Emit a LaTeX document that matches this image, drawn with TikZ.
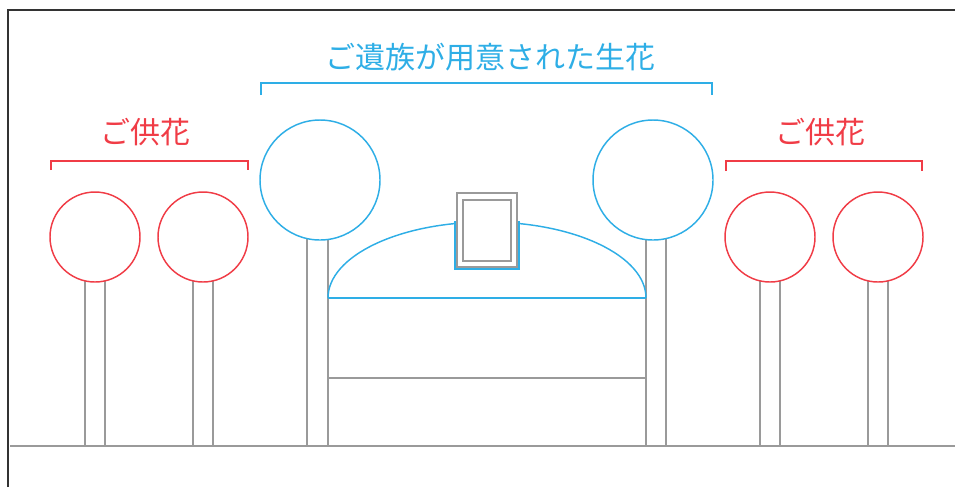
\documentclass[tikz,border=0pt]{standalone}
\usepackage{fontspec}
\newfontfamily\jp{Noto Sans CJK JP}
\definecolor{fred}{HTML}{F03C46}
\definecolor{fblue}{HTML}{2EAEE6}
\definecolor{fgray}{HTML}{9A9A9A}
\begin{document}
\begin{tikzpicture}[x=0.75pt,y=-0.75pt,
  gl/.style={draw=fgray,line width=1.5pt},
  rl/.style={draw=fred,line width=1.1pt},
  bl/.style={draw=fblue,line width=1.1pt},
  lbl/.style={font=\jp\fontsize{22.5pt}{24pt}\selectfont,inner sep=0pt}]
\useasboundingbox (0,0) rectangle (955,487);
\draw[draw=black!80,line width=1.5pt] (8,487) -- (8,10) -- (955,10);
% ground
\coordinate (gL) at (10,446);
\coordinate (gR) at (955,446);
\draw[gl] (gL) -- (gR);
% red flowers
\foreach \cx in {95,203,770,878}{
  \draw[gl] (\cx-10,280) -- (\cx-10,446) (\cx+10,280) -- (\cx+10,446);
  \draw[rl,fill=white] (\cx,237) circle[radius=45];
}
% blue flowers
\draw[gl] (307,236) -- (307,446) (328,236) -- (328,446);
\draw[gl] (646,236) -- (646,446) (666,236) -- (666,446);
\draw[bl,fill=white] (320,180) circle[radius=60];
\draw[bl,fill=white] (653,180) circle[radius=60];
% altar
\draw[gl] (328,298) rectangle (646,446);
\draw[gl] (328,378) -- (646,378);
\draw[bl] (328,298) arc[start angle=180,end angle=360,x radius=159,y radius=76];
\draw[draw=fblue,line width=2pt] (328,298) -- (646,298);
% photo
\draw[bl,fill=white] (455,222) rectangle (519,269);
\draw[gl,fill=white] (457,193) rectangle (517,267);
\draw[gl] (463,200) rectangle (511,261);
% brackets
\draw[rl] (51,170) -- (51,161) -- (248,161) -- (248,170);
\draw[bl] (261,95) -- (261,83) -- (712,83) -- (712,95);
\draw[rl] (726,171) -- (726,161) -- (922,161) -- (922,171);
% labels
\node[lbl,text=fred] (tl) at (145,132) {ご供花};
\node[lbl,text=fred] (tr) at (820,132) {ご供花};
\node[lbl,text=fblue] (tc) at (490,57) {ご遺族が用意された生花};
\end{tikzpicture}
\end{document}
